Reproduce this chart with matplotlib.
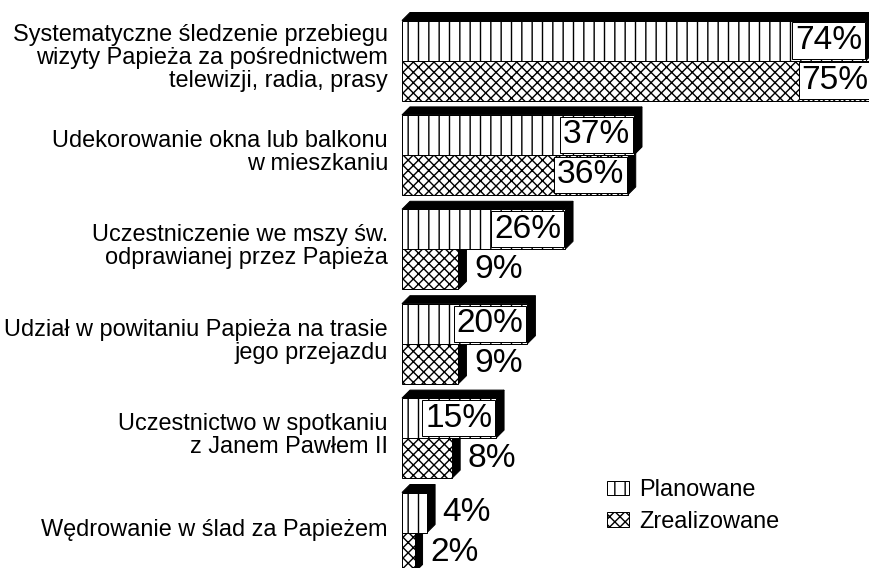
import matplotlib
matplotlib.use("Agg")
import matplotlib.pyplot as plt
from matplotlib.patches import Rectangle, Polygon, Patch

categories = [
    "Systematyczne śledzenie przebiegu\nwizyty Papieża za pośrednictwem\ntelewizji, radia, prasy",
    "Udekorowanie okna lub balkonu\nw mieszkaniu",
    "Uczestniczenie we mszy św.\nodprawianej przez Papieża",
    "Udział w powitaniu Papieża na trasie\njego przejazdu",
    "Uczestnictwo w spotkaniu\nz Janem Pawłem II",
    "Wędrowanie w ślad za Papieżem",
]
planowane = [74, 37, 26, 20, 15, 4]
zrealizowane = [75, 36, 9, 9, 8, 2]
series_names = ["Planowane", "Zrealizowane"]

DPI = 62
W, H = 869, 568
def pt(px):
    return px * 72.0 / DPI

plt.rcParams["font.family"] = ["Liberation Sans", "DejaVu Sans"]
plt.rcParams["hatch.linewidth"] = pt(1.4)
plt.rcParams["hatch.color"] = "black"

fig = plt.figure(figsize=(W / DPI, H / DPI), dpi=DPI)
ax = fig.add_axes([0, 0, 1, 1])
ax.set_axis_off()

# scales: x in percent, y in group index
px_per_pct = 6.27
x0_px = 402
ax.set_xlim(-x0_px / px_per_pct, (W - x0_px) / px_per_pct)
grp_px = 94.4
c0_px = 60.5
ax.set_ylim((H - c0_px) / grp_px, -c0_px / grp_px)

bar_h = 40 / grp_px
dx = 8 / px_per_pct
dy = 8 / grp_px
edge_lw = pt(1)
cat_fs = pt(23.5)
lab_fs = pt(33.5)

def draw_bar(v, top, hatch, with_top, z):
    bot = top + bar_h
    ax.add_patch(Polygon([(v, top), (v + dx, top - dy), (v + dx, bot - dy), (v, bot)],
                         closed=True, fc="black", ec="black", lw=edge_lw, zorder=z))
    if with_top:
        ax.add_patch(Polygon([(0, top), (dx, top - dy), (v + dx, top - dy), (v, top)],
                             closed=True, fc="black", ec="black", lw=edge_lw, zorder=z))
    ax.add_patch(Rectangle((0, top), v, bar_h, fc="white", ec="black",
                           hatch=hatch, lw=edge_lw, zorder=z + 0.1))

def draw_label(v, yc, z):
    txt = f"{v}%"
    if v >= 15:
        ax.text(v - 0.6, yc, txt, ha="right", va="center", fontsize=lab_fs, zorder=z + 0.5,
                bbox=dict(boxstyle="square,pad=0.08", fc="white", ec="black", lw=edge_lw))
    else:
        ax.text(v + dx + 1.2, yc, txt, ha="left", va="center", fontsize=lab_fs, zorder=z + 0.5)

for i, (p, r) in enumerate(zip(planowane, zrealizowane)):
    zbase = 10 + i * 5
    draw_bar(r, i, "xx", False, zbase)
    draw_bar(p, i - bar_h, "|", True, zbase + 1)
    draw_label(r, i + bar_h / 2, zbase + 2)
    draw_label(p, i - bar_h / 2, zbase + 2)
    ax.text((388 - x0_px) / px_per_pct, i - 2.5 / grp_px, categories[i], ha="right", va="center",
            multialignment="right", fontsize=cat_fs, linespacing=1.07)

handles = [
    Patch(fc="white", ec="black", hatch="|", lw=edge_lw),
    Patch(fc="white", ec="black", hatch="xx", lw=edge_lw),
]
fig.legend(handles, series_names, loc="upper left",
           bbox_to_anchor=(607 / W, 1 - 479 / H), frameon=False,
           fontsize=cat_fs, handlelength=0.92, handleheight=0.55,
           handletextpad=0.46, labelspacing=0.42, borderpad=0, borderaxespad=0)

fig.savefig("out.png", dpi=DPI)
